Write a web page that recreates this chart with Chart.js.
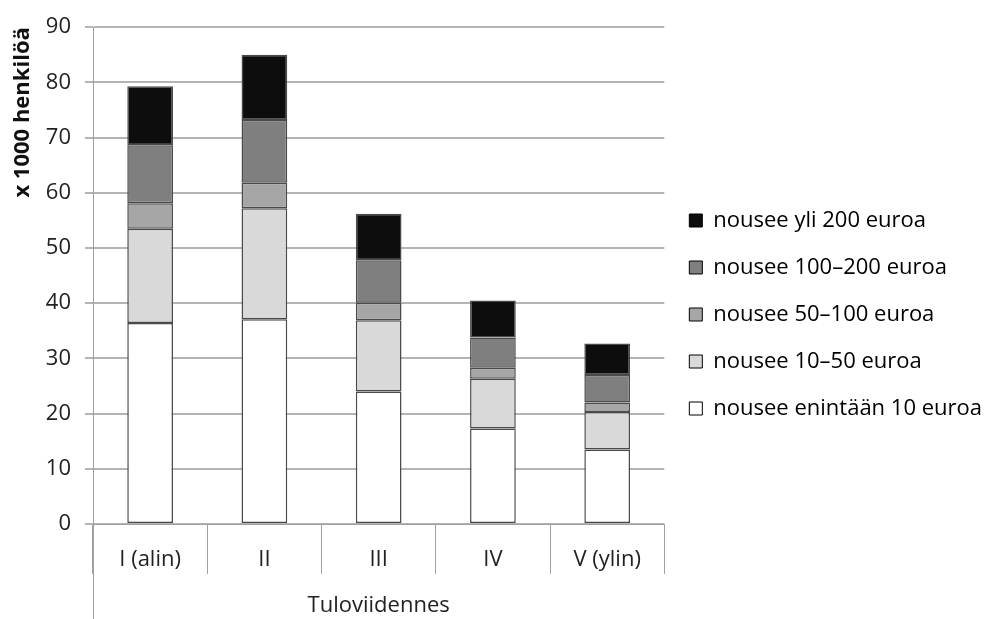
<!DOCTYPE html>
<html>
<head>
<meta charset="utf-8">
<script src="https://cdn.jsdelivr.net/npm/chart.js@4.4.1/dist/chart.umd.min.js"></script>
<style>
  html, body { margin: 0; padding: 0; background: #fff; }
  #wrap { width: 992px; height: 619px; }
</style>
</head>
<body>
<div id="wrap"><canvas id="chart" width="992" height="619"></canvas></div>
<script>
// Tuloviidennekset ja nousuluokat (x 1000 henkilöä)
const categories = ['I (alin)', 'II', 'III', 'IV', 'V (ylin)'];
const seriesNames = [
    'nousee enintään 10 euroa',
    'nousee 10–50 euroa',
    'nousee 50–100 euroa',
    'nousee 100–200 euroa',
    'nousee yli 200 euroa',
];
const upTo10 = [36.4, 37.1, 24.0, 17.3, 13.5];
const from10to50 = [17.1, 20.1, 12.9, 9.0, 6.8];
const from50to100 = [4.6, 4.6, 3.2, 2.0, 1.7];
const from100to200 = [10.5, 11.4, 7.7, 5.5, 5.0];
const over200 = [10.7, 11.8, 8.4, 6.7, 5.7];
const yTicks = [0, 10, 20, 30, 40, 50, 60, 70, 80, 90];

const fills = ['#ffffff', '#d9d9d9', '#a6a6a6', '#7f7f7f', '#0d0d0d'];
const seriesData = [upTo10, from10to50, from50to100, from100to200, over200];
const FONT = 'Open Sans';

// left edge line of the category axis goes down to the bottom
const groupLine = {
    id: 'groupLine',
    afterDraw(chart) {
        const x = chart.scales.x;
        const c = chart.ctx;
        c.save();
        c.strokeStyle = '#a0a0a0';
        c.lineWidth = 1;
        c.beginPath();
        c.moveTo(Math.round(x.left) + 0.5, x.top);
        c.lineTo(Math.round(x.left) + 0.5, chart.height);
        c.stroke();
        c.restore();
    }
};

function drawChart() {
    const ctx = document.getElementById('chart').getContext('2d');
    new Chart(ctx, {
        type: 'bar',
        data: {
            labels: categories,
            datasets: seriesNames.map((name, i) => ({
                label: name,
                data: seriesData[i],
                backgroundColor: fills[i],
                borderColor: '#4a4a4a',
                borderWidth: 1.5,
                borderSkipped: false,
                categoryPercentage: 1,
                barPercentage: 0.4,
            })),
        },
        plugins: [groupLine],
        options: {
            responsive: false,
            animation: false,
            devicePixelRatio: 1,
            layout: { padding: { top: 10, right: 0, left: 0, bottom: 0 } },
            plugins: {
                legend: {
                    position: 'right',
                    reverse: true,
                    maxWidth: 360,
                    labels: {
                        boxWidth: 13,
                        boxHeight: 13,
                        padding: 25,
                        color: '#1a1a1a',
                        font: { family: FONT, size: 22 },
                        generateLabels(chart) {
                            return chart.data.datasets.map((ds, i) => ({
                                text: ds.label,
                                fillStyle: ds.backgroundColor,
                                strokeStyle: '#000',
                                lineWidth: 1,
                                datasetIndex: i,
                            }));
                        },
                    },
                },
                tooltip: { enabled: false },
            },
            scales: {
                x: {
                    stacked: true,
                    afterFit(scale) { scale.height = 95; },
                    border: { color: '#a0a0a0', width: 1 },
                    grid: {
                        offset: true,
                        drawOnChartArea: false,
                        color: '#a0a0a0',
                        tickLength: 50,
                    },
                    ticks: {
                        color: '#222',
                        font: { family: FONT, size: 22 },
                        padding: -27,
                    },
                    title: {
                        display: true,
                        text: 'Tuloviidennes',
                        color: '#222',
                        font: { family: FONT, size: 22 },
                        padding: { top: 0, bottom: 0 },
                    },
                },
                y: {
                    stacked: true,
                    min: 0,
                    max: 90,
                    afterFit(scale) { scale.width = 93; },
                    afterBuildTicks(scale) {
                        scale.ticks = yTicks.map(v => ({ value: v }));
                    },
                    border: { color: '#a0a0a0', width: 1 },
                    grid: {
                        color: '#b4b4b4',
                        lineWidth: 2,
                        tickLength: 8,
                    },
                    ticks: {
                        color: '#222',
                        font: { family: FONT, size: 22 },
                        padding: 14,
                    },
                    title: {
                        display: true,
                        text: 'x 1000 henkilöä',
                        align: 'end',
                        color: '#111',
                        font: { family: FONT, size: 22, weight: 'bold' },
                        padding: { top: 10, bottom: 0 },
                    },
                },
            },
        },
    });
}

Promise.all([
    document.fonts.load('20px "Open Sans"'),
    document.fonts.load('bold 20px "Open Sans"'),
]).then(drawChart, drawChart);
</script>
</body>
</html>
